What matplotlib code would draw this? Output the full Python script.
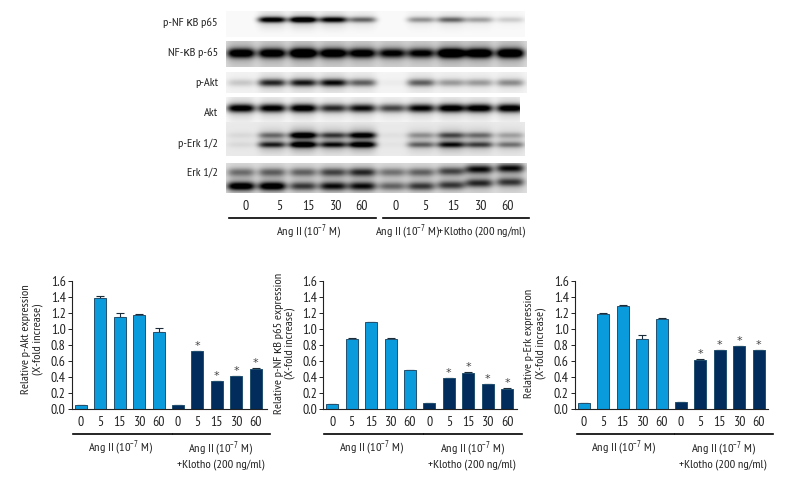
"""Western blot strips with densitometry bars: p-Akt, p-NF kB p65 and p-Erk."""

import matplotlib

matplotlib.use("Agg")
import matplotlib.pyplot as plt
import numpy as np

plt.rcParams["font.family"] = ["PT Sans Narrow", "Archivo Narrow", "Liberation Sans Narrow", "Liberation Sans", "DejaVu Sans"]
plt.rcParams["mathtext.default"] = "regular"

TIMES = ["0", "5", "15", "30", "60", "0", "5", "15", "30", "60"]
AKT_VALUES = [0.05, 1.39, 1.15, 1.17, 0.96, 0.05, 0.72, 0.35, 0.41, 0.50]
AKT_ERRORS = [0.0, 0.02, 0.05, 0.01, 0.05, 0.0, 0.01, 0.005, 0.01, 0.02]
NFKB_VALUES = [0.07, 0.88, 1.08, 0.88, 0.49, 0.075, 0.39, 0.45, 0.315, 0.255]
NFKB_ERRORS = [0.0, 0.005, 0.01, 0.005, 0.005, 0.005, 0.005, 0.01, 0.005, 0.005]
ERK_VALUES = [0.075, 1.19, 1.29, 0.88, 1.125, 0.085, 0.615, 0.735, 0.785, 0.735]
ERK_ERRORS = [0.0, 0.01, 0.005, 0.04, 0.01, 0.005, 0.005, 0.005, 0.005, 0.005]

# band darkness per lane, read by eye from the blots
PNFKB_BANDS = [0.0, 0.95, 1.1, 0.9, 0.5, 0.0, 0.35, 0.5, 0.3, 0.15]
NFKB_BANDS = [0.95, 0.95, 1.15, 1.0, 0.9, 0.8, 0.8, 1.15, 1.05, 1.05]
PAKT_BANDS = [0.15, 0.7, 0.75, 0.8, 0.5, 0.03, 0.5, 0.3, 0.3, 0.35]
AKT_BANDS = [0.95, 0.9, 0.95, 0.7, 0.8, 0.6, 0.85, 0.95, 0.95, 0.95]
PERK_UPPER = [0.05, 0.35, 0.85, 0.5, 0.75, 0.03, 0.25, 0.45, 0.35, 0.2]
PERK_LOWER = [0.05, 0.6, 0.85, 0.65, 0.8, 0.02, 0.4, 0.65, 0.5, 0.35]
ERK_UPPER = [0.35, 0.4, 0.4, 0.5, 0.6, 0.35, 0.4, 0.5, 0.7, 0.7]
ERK_LOWER = [0.9, 0.9, 0.55, 0.7, 0.7, 0.4, 0.55, 0.55, 0.6, 0.55]
ERK_DRIFT = [0, 0, 0, 0, 0, 0, 0, -1, -3, -4]

BLOT_LABELS = ["p-NF κB p65", "NF-κB p-65", "p-Akt", "Akt", "p-Erk 1/2", "Erk 1/2"]
ANG = "Ang II (10$^{-7}$ M)"
KLOTHO = "+Klotho (200 ng/ml)"

W, H = 792, 480
LIGHT = "#0a9bdc"
DARK = "#012c5c"
TEXT = "#222222"
FONT = 10
LABEL_FONT = 8.9
LANES = np.array([241, 272, 303, 333, 362, 392, 421, 451, 479, 510])


def draw_strip(overlay, box, bands, background=0.05, haze=0.2, sigma_y=3.0, half_width=14, drift=None):
	"""box is (left, right, top, bottom) in figure pixels; bands is a list of
	(band y, lane darkness) pairs."""
	left, right, top, bottom = box
	xx, yy = np.meshgrid(np.arange(left, right, 0.5), np.arange(top, bottom, 0.5))
	shifts = drift if drift is not None else [0] * len(LANES)
	dark = np.full(xx.shape, background)
	for band_y, levels in bands:
		for lane, level, shift in zip(LANES, levels, shifts):
			centre = band_y + shift
			across = np.exp(-(np.abs(xx - lane) / half_width) ** 4)
			dark += level * across * np.exp(-(((yy - centre) / sigma_y) ** 2))
			dark += haze * level * across * np.exp(-(((yy - centre) / (sigma_y * 3)) ** 2))
	overlay.imshow(
		np.clip(dark, 0, 1), cmap="gray_r", vmin=0, vmax=1.0, extent=(left, right, bottom, top),
		aspect="auto", interpolation="bilinear", zorder=1,
	)


def draw_blots(overlay):
	draw_strip(overlay, (226, 525, 11, 37), [(19.5, PNFKB_BANDS)], background=0.02, sigma_y=2.8)
	draw_strip(overlay, (226, 527, 41, 67), [(53, NFKB_BANDS)], background=0.14, sigma_y=4.6)
	draw_strip(overlay, (226, 527, 72, 93), [(82.5, PAKT_BANDS)], background=0.04, sigma_y=3.6)
	draw_strip(overlay, (226, 520, 97, 122), [(108, AKT_BANDS)], background=0.02, sigma_y=4.0)
	draw_strip(overlay, (226, 525, 122, 156), [(135, PERK_UPPER), (144.5, PERK_LOWER)], background=0.08, haze=0.35, sigma_y=2.8)
	draw_strip(overlay, (226, 527, 163, 193), [(172, ERK_UPPER), (186, ERK_LOWER)], background=0.12, haze=0.2, sigma_y=4.0, drift=ERK_DRIFT)

	for label, y in zip(BLOT_LABELS, [23, 53, 83, 113, 144, 172]):
		overlay.text(218, y, label, ha="right", va="center", fontsize=LABEL_FONT, color=TEXT)
	for time, x in zip(TIMES, [246, 279, 308, 335, 362, 396, 425, 453, 480, 507]):
		overlay.text(x, 207, time, ha="center", va="center", fontsize=FONT, color=TEXT)
	overlay.plot([229, 376], [218, 218], color="black", lw=1.2)
	overlay.plot([383, 529], [218, 218], color="black", lw=1.2)
	overlay.text(308, 232, ANG, ha="center", va="center", fontsize=LABEL_FONT, color=TEXT)
	overlay.text(451, 232, ANG + KLOTHO, ha="center", va="center", fontsize=LABEL_FONT, color=TEXT)


def draw_panel(fig, overlay, box, values, errors, ylabel, label_x, label_y, rules):
	"""box is (axis left, axis right, first bar centre, last bar centre) in pixels."""
	left, right, first, last = box
	y_bottom, y_top = 409.3, 280.7
	ax = fig.add_axes([left / W, 1 - y_bottom / H, (right - left) / W, (y_bottom - y_top) / H])
	ax.patch.set_alpha(0)
	step = (last - first) / 9
	ax.set_xlim((left - first) / step, (right - first) / step)
	ax.set_ylim(0, 1.6)

	positions = np.arange(len(values))
	colors = [LIGHT] * 5 + [DARK] * 5
	ax.bar(positions, values, width=0.62, color=colors, edgecolor="#23506f", linewidth=0.7, zorder=2)
	ax.errorbar(positions, values, yerr=[np.zeros(len(errors)), errors], fmt="none", ecolor="#1c2b38", elinewidth=0.8, capsize=2.6, capthick=0.8, zorder=1)
	for pos, value, err in list(zip(positions, values, errors))[6:]:
		ax.text(pos, value + err, "*", ha="center", va="bottom", fontsize=8, color="#444444", family="DejaVu Sans")

	ax.set_yticks(np.arange(0, 1.61, 0.2))
	ax.set_yticklabels([f"{v:.1f}" for v in np.arange(0, 1.61, 0.2)])
	ax.set_xticks(positions)
	ax.set_xticklabels(TIMES)
	ax.tick_params(axis="y", length=3, width=0.7, pad=1.5, labelsize=FONT, colors=TEXT)
	ax.tick_params(axis="x", length=0, pad=5, labelsize=FONT, colors=TEXT)
	for side in ["top", "right"]:
		ax.spines[side].set_visible(False)
	for side in ["left", "bottom"]:
		ax.spines[side].set_linewidth(0.8)
		ax.spines[side].set_color("#222222")

	overlay.text(label_x, label_y, ylabel, rotation=90, ha="center", va="center", multialignment="center", fontsize=LABEL_FONT, color=TEXT, linespacing=1.05)
	a, b, c, d = rules
	overlay.plot([a, b], [434, 434], color="black", lw=1.2)
	overlay.plot([c, d], [434, 434], color="black", lw=1.2)
	overlay.text((a + b) / 2 - 2, 448, ANG, ha="center", va="center", fontsize=LABEL_FONT, color=TEXT)
	overlay.text((c + d) / 2 - 1, 455, ANG + "\n" + KLOTHO, ha="center", va="center", multialignment="center", fontsize=LABEL_FONT, color=TEXT, linespacing=1.1)


def main():
	fig = plt.figure(figsize=(W / 100, H / 100), dpi=100, facecolor="white")
	overlay = fig.add_axes([0, 0, 1, 1], zorder=0)
	overlay.set_axis_off()
	draw_blots(overlay)

	draw_panel(fig, overlay, (72, 267, 81, 255.7), AKT_VALUES, AKT_ERRORS,
		"Relative p-Akt expression\n(X-fold increase)", 32, 339, (73, 172, 173, 270))
	draw_panel(fig, overlay, (323.3, 517, 332.3, 507), NFKB_VALUES, NFKB_ERRORS,
		"Relative p-NF κB p65 expression\n(X-fold increase)", 284, 343, (324, 423, 424, 522))
	draw_panel(fig, overlay, (575, 768, 584, 758.7), ERK_VALUES, ERK_ERRORS,
		"Relative p-Erk expression\n(X-fold increase)", 535, 343, (577, 674, 675, 773))

	overlay.set_xlim(0, W)
	overlay.set_ylim(H, 0)
	fig.savefig("out.png", dpi=100)
	plt.close(fig)


if __name__ == "__main__":
	main()
